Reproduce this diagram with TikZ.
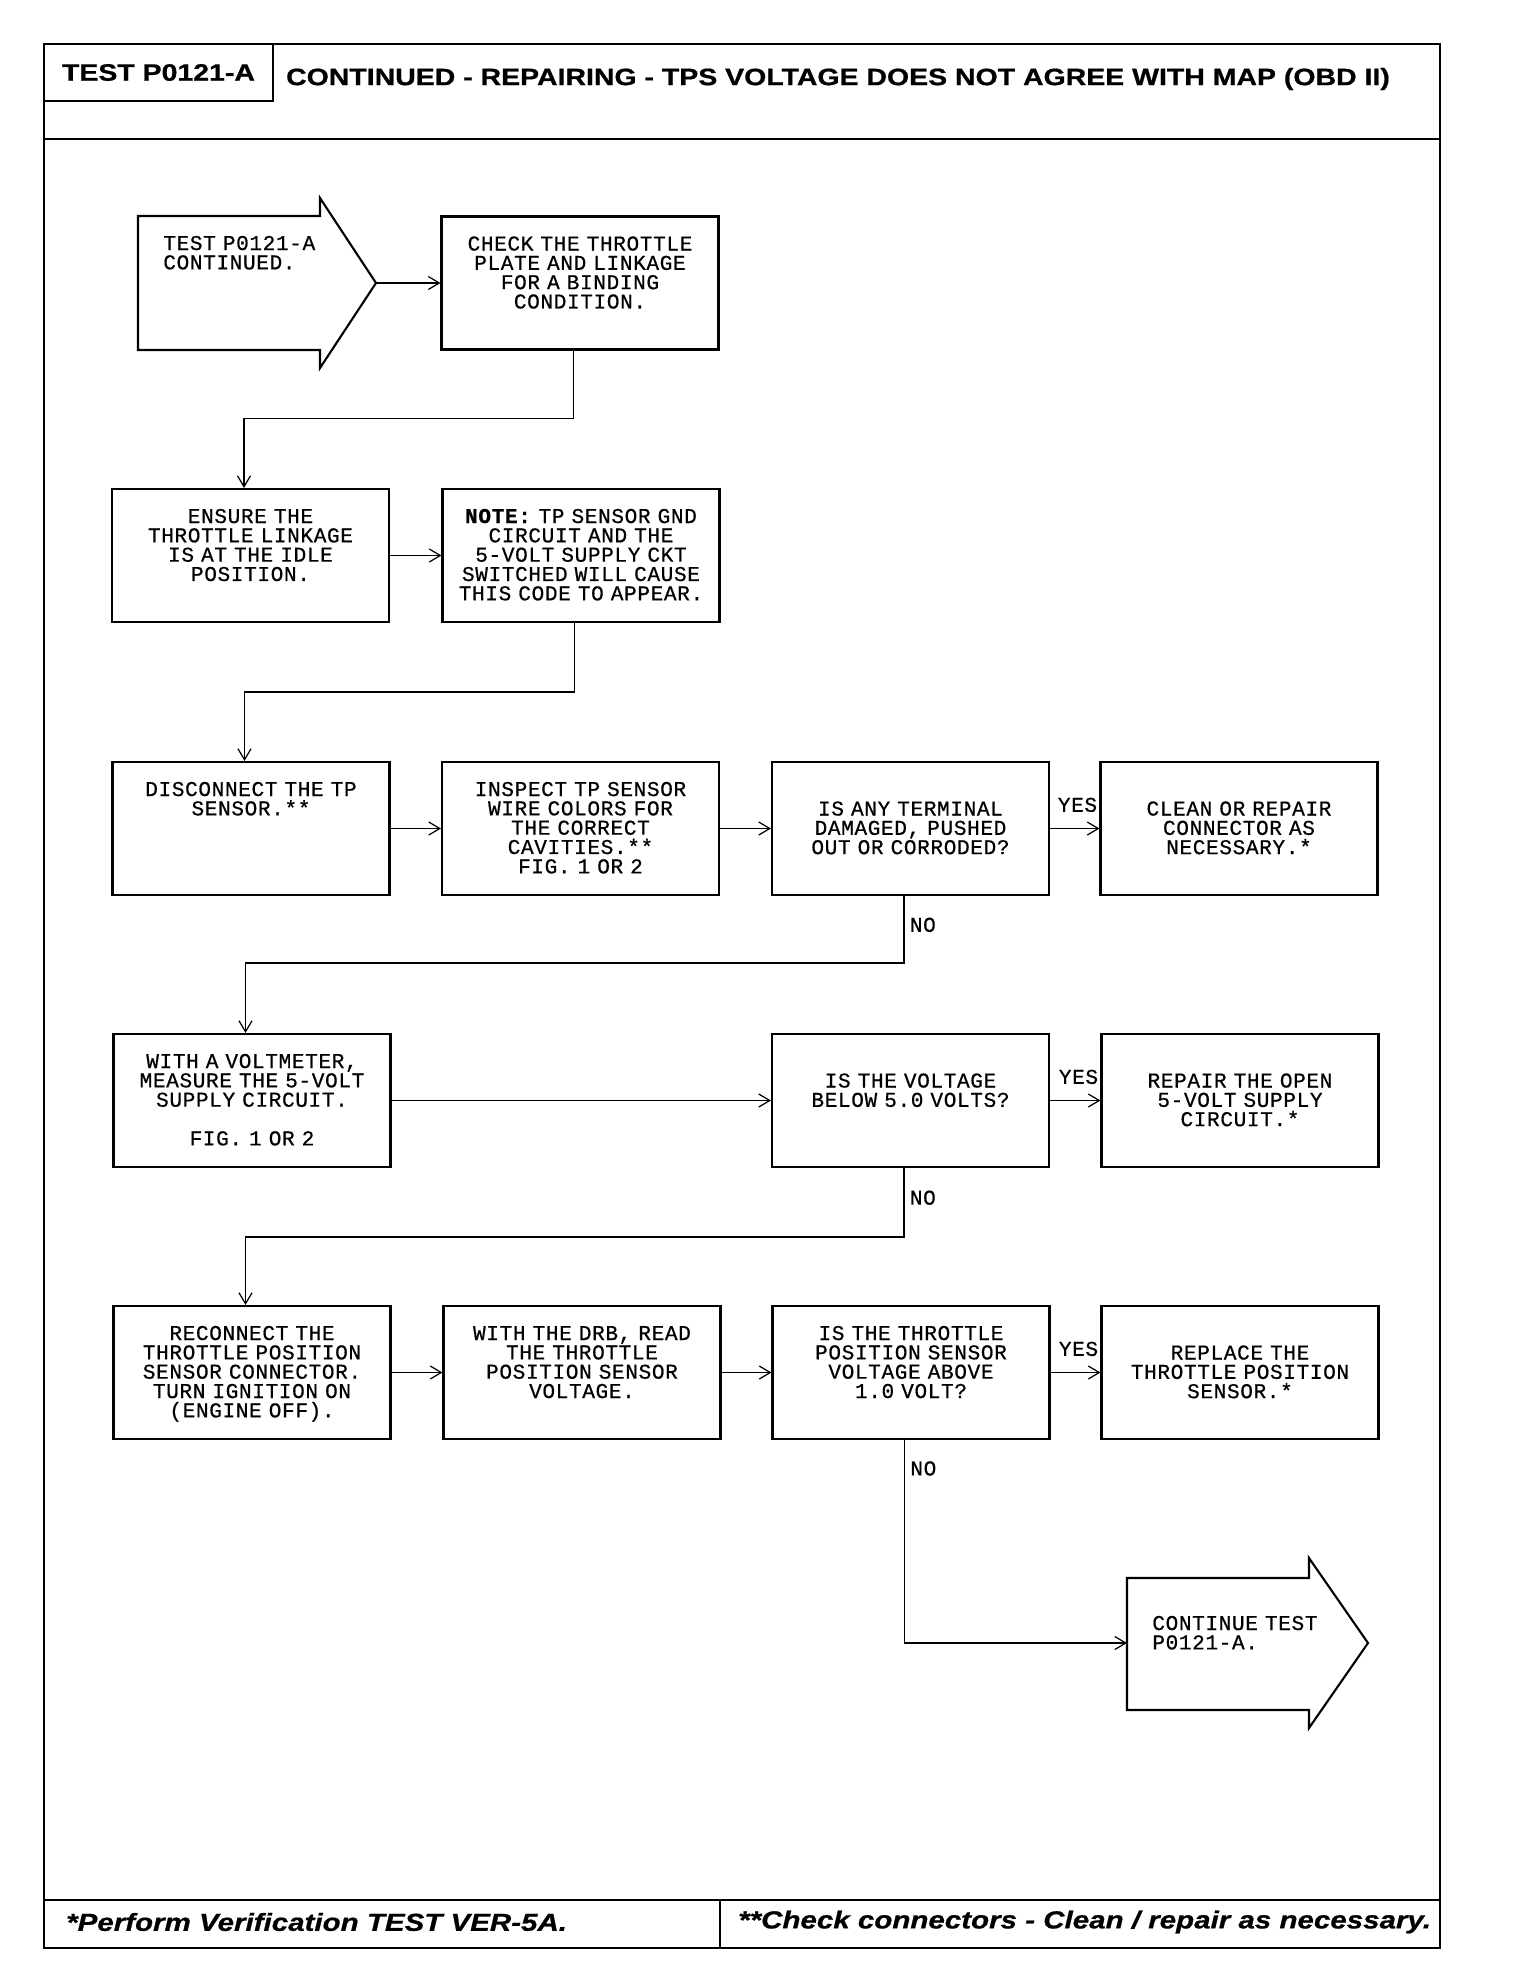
\documentclass[tikz,border=0pt]{standalone}
\usepackage{fontspec}
\usepackage{tikz}
\usetikzlibrary{arrows.meta}
\newfontfamily\headfont[FakeStretch=1.2,FakeBold=0.8]{Liberation Sans}
\newfontfamily\typefont[LetterSpace=3,FakeBold=0.6]{Liberation Mono}
\newcommand{\boxfont}{\typefont\fontsize{12}{11}\selectfont}
\newcommand{\titlefont}{\headfont\bfseries\fontsize{13.5}{16}\selectfont}
\newcommand{\footfont}{\headfont\bfseries\itshape\fontsize{14}{16}\selectfont}

\begin{document}
\begin{tikzpicture}[x=0.02cm,y=-0.02cm,
  frame/.style={line width=1.6pt},
  box/.style={draw,line width=1.2pt,minimum width=5.54cm,minimum height=2.66cm,
              inner sep=0pt,text width=5.4cm,align=center,font=\boxfont},
  stepbox/.style={box,text height=0.68cm,text depth=1.98cm},
  lowbox/.style={box,text height=1.07cm,text depth=1.59cm},
  bigarrow/.style={draw,line width=1.2pt},
  arr/.style={-{Straight Barb[length=2.2mm,width=2.6mm]},line width=0.7pt},
  yeslab/.style={font=\boxfont,inner sep=1pt,anchor=base east,pos=1,yshift=9.5pt},
  nolab/.style={font=\boxfont,inner sep=3pt,anchor=west}]
\useasboundingbox (0,0) rectangle (1520,1982);
\draw[frame] (44,44) rectangle (1440,1948);
\draw[frame] (44,139) -- (1440,139);
\draw[frame] (44,1900) -- (1440,1900);
\draw[frame] (720,1900) -- (720,1948);
\node[draw,frame,minimum width=4.58cm,minimum height=1.14cm,font=\titlefont] (testid) at (158.5,72.5) {TEST P0121-A};
\node[font=\titlefont] (title) at (838,79) {CONTINUED - REPAIRING - TPS VOLTAGE DOES NOT AGREE WITH MAP (OBD II)};
\node[font=\footfont,anchor=west] (verify) at (60,1922) {*Perform Verification TEST VER-5A.};
\node[font=\footfont,anchor=west] (connect) at (732,1922) {**Check connectors - Clean / repair as necessary.};

\draw[bigarrow] (138,216) -- (320,216) -- (320,198) -- (376,283) -- (320,368) -- (320,350) -- (138,350) -- cycle;
\coordinate (starttip) at (376,283);
\node[font=\boxfont,text width=4cm,align=left,inner sep=0pt,anchor=base west] (starttext) at (163,250) {TEST P0121-A\\CONTINUED.};
\draw[bigarrow] (1127,1578) -- (1309,1578) -- (1309,1558) -- (1368,1643) -- (1309,1728) -- (1309,1710) -- (1127,1710) -- cycle;
\coordinate (endtail) at (1127,1643);
\node[font=\boxfont,text width=4cm,align=left,inner sep=0pt,anchor=base west] (endtext) at (1152,1630) {CONTINUE TEST\\P0121-A.};

\node[stepbox] (check) at (580,283) {CHECK THE THROTTLE\\PLATE AND LINKAGE\\FOR A BINDING\\CONDITION.};
\node[stepbox] (ensure) at (250.5,555.5) {ENSURE THE\\THROTTLE LINKAGE\\IS AT THE IDLE\\POSITION.};
\node[stepbox] (note) at (581,555.5) {\textbf{NOTE:} TP SENSOR GND\\CIRCUIT AND THE\\5-VOLT SUPPLY CKT\\SWITCHED WILL CAUSE\\THIS CODE TO APPEAR.};
\node[stepbox] (disconnect) at (251,828.5) {DISCONNECT THE TP\\SENSOR.**};
\node[stepbox] (inspect) at (580.5,828.5) {INSPECT TP SENSOR\\WIRE COLORS FOR\\THE CORRECT\\CAVITIES.**\\FIG. 1 OR 2};
\node[lowbox] (terminal) at (910.5,828.5) {IS ANY TERMINAL\\DAMAGED, PUSHED\\OUT OR CORRODED?};
\node[lowbox] (clean) at (1239,828.5) {CLEAN OR REPAIR\\CONNECTOR AS\\NECESSARY.*};
\node[stepbox] (voltmeter) at (252,1100.5) {WITH A VOLTMETER,\\MEASURE THE 5-VOLT\\SUPPLY CIRCUIT.\\[11pt]FIG. 1 OR 2};
\node[lowbox] (voltage) at (910.5,1100.5) {IS THE VOLTAGE\\BELOW 5.0 VOLTS?};
\node[lowbox] (repair) at (1240,1100.5) {REPAIR THE OPEN\\5-VOLT SUPPLY\\CIRCUIT.*};
\node[stepbox] (reconnect) at (252,1372.5) {RECONNECT THE\\THROTTLE POSITION\\SENSOR CONNECTOR.\\TURN IGNITION ON\\(ENGINE OFF).};
\node[stepbox] (drb) at (582,1372.5) {WITH THE DRB, READ\\THE THROTTLE\\POSITION SENSOR\\VOLTAGE.};
\node[stepbox] (throttle) at (911,1372.5) {IS THE THROTTLE\\POSITION SENSOR\\VOLTAGE ABOVE\\1.0 VOLT?};
\node[lowbox] (replace) at (1240,1372.5) {REPLACE THE\\THROTTLE POSITION\\SENSOR.*};

\draw[arr] (starttip) -- (check);
\draw[arr] ([xshift=-0.13cm]check.south) -- ++(0,68) -| ([xshift=-0.13cm]ensure.north);
\draw[arr] (ensure) -- (note);
\draw[arr] ([xshift=-0.13cm]note.south) -- ++(0,69) -| ([xshift=-0.13cm]disconnect.north);
\draw[arr] (disconnect) -- (inspect);
\draw[arr] (inspect) -- (terminal);
\draw[arr] (terminal) -- node[yeslab]{YES} (clean);
\draw[arr] ([xshift=-0.13cm]terminal.south) -- node[nolab,pos=0.43]{NO} ++(0,67) -| ([xshift=-0.13cm]voltmeter.north);
\draw[arr] (voltmeter) -- (voltage);
\draw[arr] (voltage) -- node[yeslab]{YES} (repair);
\draw[arr] ([xshift=-0.13cm]voltage.south) -- node[nolab,pos=0.43]{NO} ++(0,69) -| ([xshift=-0.13cm]reconnect.north);
\draw[arr] (reconnect) -- (drb);
\draw[arr] (drb) -- (throttle);
\draw[arr] (throttle) -- node[yeslab]{YES} (replace);
\draw[arr] ([xshift=-0.13cm]throttle.south) -- node[nolab,pos=0.14]{NO} ([xshift=-0.13cm]throttle.south |- endtail) -- (endtail);
\end{tikzpicture}
\end{document}
